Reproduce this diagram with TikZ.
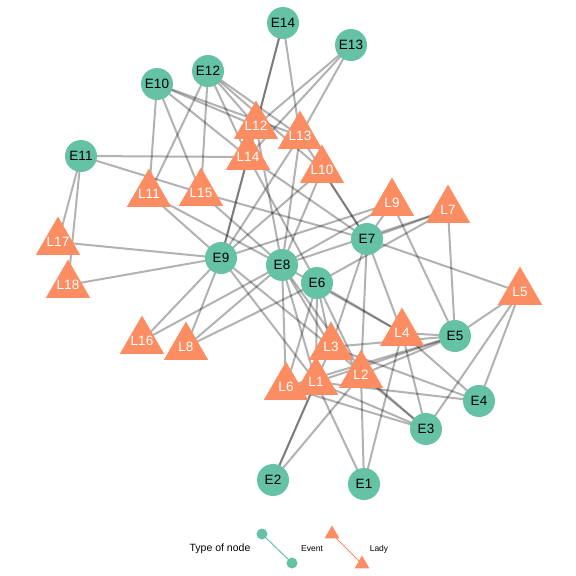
\documentclass[tikz,border=0pt]{standalone}
\usepackage{fontspec}
\setmainfont{Liberation Sans}
\usetikzlibrary{shapes.geometric,backgrounds}
\definecolor{evt}{HTML}{66C2A5}
\definecolor{lady}{HTML}{FC8D62}
\tikzset{
  event/.style={circle,fill=evt,draw=none,minimum size=32pt,inner sep=0pt,font=\fontsize{13.5}{14}\selectfont,text=black},
  ladytri/.style={regular polygon,regular polygon sides=3,fill=lady,draw=none,minimum size=51pt,inner sep=0pt},
  ladylab/.style={text=white,font=\fontsize{13.5}{14}\selectfont,inner sep=0pt},
  edge/.style={draw=black,opacity=0.3,line width=2pt},
  keyev/.style={circle,fill=evt,draw=none,minimum size=11pt,inner sep=0pt},
  keyla/.style={regular polygon,regular polygon sides=3,fill=lady,draw=none,minimum size=17pt,inner sep=0pt},
}
\begin{document}
\begin{tikzpicture}[x=1pt,y=-1pt]
\useasboundingbox (0,0) rectangle (576,576);
% events
\node[event] (E1) at (364,484) {E1};
\node[event] (E2) at (273,480) {E2};
\node[event] (E3) at (426,429) {E3};
\node[event] (E4) at (479,401) {E4};
\node[event] (E5) at (455,336) {E5};
\node[event] (E6) at (317,283) {E6};
\node[event] (E7) at (367,239) {E7};
\node[event] (E8) at (282,265) {E8};
\node[event] (E9) at (221,258) {E9};
\node[event] (E10) at (157,84) {E10};
\node[event] (E11) at (81,156) {E11};
\node[event] (E12) at (208,71) {E12};
\node[event] (E13) at (351,45) {E13};
\node[event] (E14) at (283,23) {E14};
% ladies
\node[ladytri,label={[ladylab]center:L6}] (L6) at (286,387) {};
\node[ladytri,label={[ladylab]center:L1}] (L1) at (316,382) {};
\node[ladytri,label={[ladylab]center:L3}] (L3) at (331,347) {};
\node[ladytri,label={[ladylab]center:L2}] (L2) at (361,375) {};
\node[ladytri,label={[ladylab]center:L4}] (L4) at (402,333) {};
\node[ladytri,label={[ladylab]center:L5}] (L5) at (520,292) {};
\node[ladytri,label={[ladylab]center:L7}] (L7) at (448,210) {};
\node[ladytri,label={[ladylab]center:L9}] (L9) at (392,203) {};
\node[ladytri,label={[ladylab]center:L10}] (L10) at (322,170) {};
\node[ladytri,label={[ladylab]center:L8}] (L8) at (186,347) {};
\node[ladytri,label={[ladylab]center:L16}] (L16) at (142,341) {};
\node[ladytri,label={[ladylab]center:L18}] (L18) at (68,285) {};
\node[ladytri,label={[ladylab]center:L17}] (L17) at (58,242) {};
\node[ladytri,label={[ladylab]center:L11}] (L11) at (149,194) {};
\node[ladytri,label={[ladylab]center:L15}] (L15) at (201,193) {};
\node[ladytri,label={[ladylab]center:L14}] (L14) at (248,157) {};
\node[ladytri,label={[ladylab]center:L13}] (L13) at (300,136) {};
\node[ladytri,label={[ladylab]center:L12}] (L12) at (256,126) {};
% edges
\begin{scope}[on background layer]
\foreach \e/\l in {E1/L1,E1/L2,E1/L4,
  E2/L1,E2/L2,E2/L3,
  E3/L1,E3/L2,E3/L3,E3/L4,E3/L5,E3/L6,
  E4/L1,E4/L3,E4/L4,E4/L5,
  E5/L1,E5/L2,E5/L3,E5/L4,E5/L5,E5/L6,E5/L7,E5/L9,
  E6/L1,E6/L2,E6/L3,E6/L4,E6/L6,E6/L7,E6/L8,E6/L14,
  E7/L2,E7/L3,E7/L4,E7/L5,E7/L7,E7/L9,E7/L10,E7/L13,E7/L14,E7/L15,
  E8/L1,E8/L2,E8/L3,E8/L4,E8/L6,E8/L7,E8/L8,E8/L9,E8/L10,E8/L11,E8/L12,E8/L13,E8/L15,E8/L16,
  E9/L1,E9/L3,E9/L8,E9/L9,E9/L10,E9/L11,E9/L12,E9/L13,E9/L14,E9/L16,E9/L17,E9/L18,
  E10/L11,E10/L12,E10/L13,E10/L14,E10/L15,
  E11/L14,E11/L15,E11/L17,E11/L18,
  E12/L10,E12/L11,E12/L12,E12/L13,E12/L14,E12/L15,
  E13/L12,E13/L13,E13/L14,
  E14/L12,E14/L13,E14/L14}
  \draw[edge] (\e.center) -- (\l.center);
\end{scope}
% legend
\node[font=\fontsize{10.5}{12}\selectfont] (title) at (220,549) {Type of node};
\node[keyev] (ka) at (262,534) {};
\node[keyev] (kb) at (292,563) {};
\draw[evt,line width=1pt] (ka) -- (kb);
\node[font=\fontsize{8.5}{10}\selectfont] (tev) at (312,549) {Event};
\node[keyla] (kc) at (332,534) {};
\node[keyla] (kd) at (362,564) {};
\draw[lady,line width=1pt] (kc.center) -- (kd.center);
\node[font=\fontsize{8.5}{10}\selectfont] (tla) at (379,549) {Lady};
\end{tikzpicture}
\end{document}
